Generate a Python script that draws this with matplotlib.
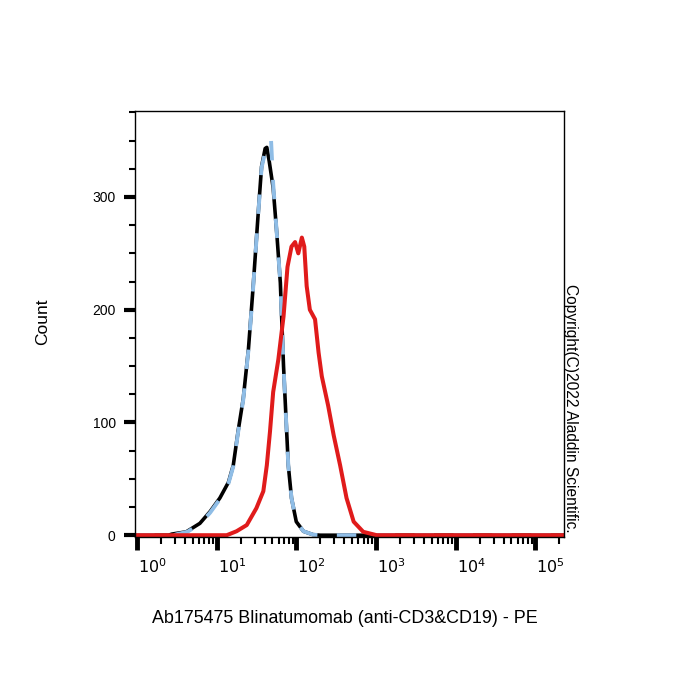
import matplotlib.pyplot as plt
import matplotlib.transforms as mtransforms
from matplotlib.ticker import FixedLocator, MultipleLocator, LogLocator, NullFormatter

plt.rcParams['font.family'] = ['Liberation Sans', 'DejaVu Sans']

# unstained control (black), isotype (blue dashed), stained sample (red)
black_x = [0.95, 2.5, 2.75, 4.17, 6.17, 8.3, 11.0, 14.1, 16.2, 18.6, 21.6, 25.1, 28.8, 33.1,
           36.7, 40.7, 42.7, 45.7, 51.3, 56.9, 63.1, 69.2, 74.1, 79.4, 87.1, 100, 123, 162,
           200, 230000]
black_y = [0, 0, 1, 3, 10.5, 21, 33, 47, 62, 92, 121, 165, 221, 283,
           327, 343, 344, 332, 308, 268, 224, 150, 106, 62, 33, 12, 3.5, 0.5,
           0, 0]

blue_x = [0.95, 2.9, 3.2, 4.3, 6.2, 8.3, 11.0, 14.1, 16.2, 18.6, 21.6, 25.1, 28.8, 33.1,
          36.7, 40.7, 44.0, 48.2, 51.3, 56.9, 63.1, 69.2, 74.1, 79.4, 87.1, 100, 123, 162,
          200, 230000]
blue_y = [0, 0, 1, 3, 10, 20, 32, 46, 61, 91, 120, 164, 220, 282,
          326, 340, 346, 351, 312, 268, 224, 150, 106, 62, 33, 12, 3.5, 0.5,
          0, 0]

red_x = [0.95, 13.4, 17.8, 23.9, 31.6, 38.6, 42.7, 46.8, 51.3, 59.6, 69.2, 77.6, 87.1,
         96.6, 106, 117.5, 126, 135, 148, 172, 190.5, 209, 251, 295, 355, 427, 525, 692,
         1023, 230000]
red_y = [0, 0, 3.5, 9, 24, 39, 62, 92, 127, 156, 194, 238, 256,
         260, 250, 264, 256, 221, 200, 191.5, 162, 141, 115, 88.5, 62, 33, 12, 3,
         0, 0]

x_major = [1, 10, 100, 1000, 10000, 100000]
x_labels = ['$10^{0}$', '$10^{1}$', '$10^{2}$', '$10^{3}$', '$10^{4}$', '$10^{5}$']
y_major = [0, 100, 200, 300]

fig = plt.figure(figsize=(7, 7), dpi=100)
ax = fig.add_axes([0.193, 0.233, 0.613, 0.608])

ax.plot(black_x, black_y, color='black', lw=2.6, solid_joinstyle='round')
ax.plot(blue_x, blue_y, color='#8fbde6', lw=2.8, dashes=(5, 5))
ax.plot(red_x, red_y, color='#e01b1b', lw=2.9, solid_joinstyle='round')

ax.set_xscale('log')
ax.set_xlim(0.95, 230000)
ax.set_ylim(-1.5, 376)

ax.xaxis.set_major_locator(FixedLocator(x_major))
ax.set_xticklabels(x_labels, ha='left')
ax.xaxis.set_minor_locator(LogLocator(base=10, subs=range(2, 10)))
ax.xaxis.set_minor_formatter(NullFormatter())
ax.yaxis.set_major_locator(FixedLocator(y_major))
ax.yaxis.set_minor_locator(MultipleLocator(25))

ax.tick_params(axis='x', which='major', direction='out', length=9, width=3.5, pad=6, labelsize=11.5)
ax.tick_params(axis='x', which='minor', direction='out', length=5, width=1.5)
ax.tick_params(axis='y', which='major', direction='out', length=8, width=3, pad=6, labelsize=10)
ax.tick_params(axis='y', which='minor', direction='out', length=4, width=1.5)

for spine in ax.spines.values():
    spine.set_linewidth(1.0)

# labels start at their ticks in the original
offset = mtransforms.ScaledTranslation(0.01, 0, fig.dpi_scale_trans)
for lab in ax.get_xticklabels():
    lab.set_transform(lab.get_transform() + offset)

fig.text(0.061, 0.54, 'Count', rotation=90, ha='center', va='center', fontsize=12.5)
fig.text(0.493, 0.117, 'Ab175475 Blinatumomab (anti-CD3&CD19) - PE',
         ha='center', va='center', fontsize=12.9)
fig.text(0.815, 0.417, 'Copyright(C)2022 Aladdin Scientific.', rotation=-90,
         ha='center', va='center', fontsize=11.2)

fig.savefig('out.png', dpi=100)
